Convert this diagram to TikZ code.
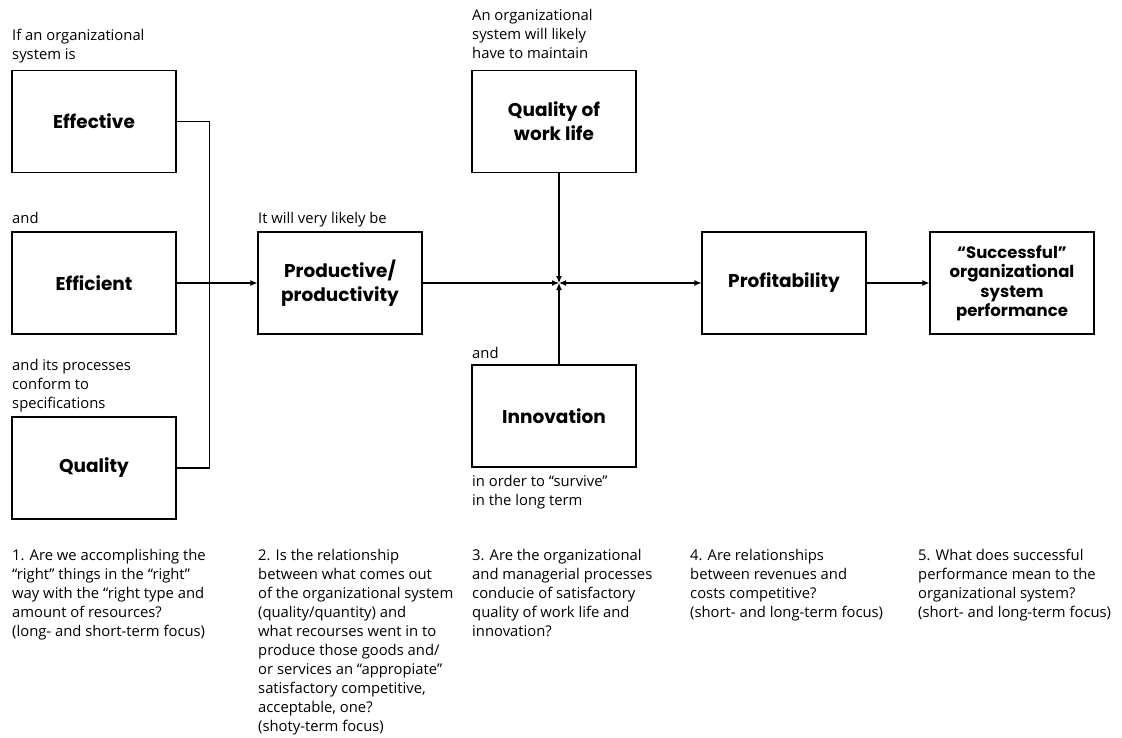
\documentclass[tikz,border=0pt]{standalone}
\usepackage{fontspec}
\setmainfont{Open Sans}
\newfontfamily\boxfont{Poppins}
\usetikzlibrary{calc,positioning,arrows.meta}

\begin{document}
\begin{tikzpicture}[x=1pt,y=-1pt,>={Latex[length=7pt,width=6pt]},
        blk/.style={draw,line width=1.1pt,minimum width=164pt,minimum height=102pt,
            align=center,inner sep=2pt,font=\boxfont\bfseries\fontsize{18.5}{24}\selectfont},
        small blk/.style={blk,font=\boxfont\bfseries\fontsize{16.5}{19.5}\selectfont},
        note/.style={anchor=north west,align=left,inner sep=0pt,
            font=\fontsize{14.8}{19}\selectfont},
        link/.style={line width=1.1pt}]
        \useasboundingbox (0,0) rectangle (1122,738);

        % boxes
        \node[blk] (eff)   at (94,121.5)  {Effective};
        \node[blk] (effi)  at (94,283)    {Efficient};
        \node[blk] (qual)  at (94,468)    {Quality};
        \node[blk] (prod)  at (340,283)   {Productive/\\productivity};
        \node[blk] (qwl)   at (554,121.5) {Quality of\\work life};
        \node[blk] (innov) at (554,416)   {Innovation};
        \node[blk] (prof)  at (784,283)   {Profitability};
        \node[small blk] (succ) at (1012,283) {“Successful”\\organizational\\system\\performance};

        % side notes
        \node[note] (n-eff)   at (12,29)   {If an organizational\\system is};
        \node[note] (n-effi)  at (12,212)  {and};
        \node[note] (n-qual)  at (12,359)  {and its processes\\conform to\\specifications};
        \node[note] (n-prod)  at (258,212) {It will very likely be};
        \node[note] (n-qwl)   at (472,9)   {An organizational\\system will likely\\have to maintain};
        \node[note] (n-innov) at (472,347) {and};
        \node[note] (n-surv)  at (472,475) {in order to “survive”\\in the long term};

        % questions
        \node[note] (q1) at (12,549)  {1. Are we accomplishing the\\“right” things in the “right”\\way with the “right type and\\amount of resources?\\(long- and short-term focus)};
        \node[note] (q2) at (258,549) {2. Is the relationship\\between what comes out\\of the organizational system\\(quality/quantity) and\\what recourses went in to\\produce those goods and/\\or services an “appropiate”\\satisfactory competitive,\\acceptable, one?\\(shoty-term focus)};
        \node[note] (q3) at (472,549) {3. Are the organizational\\and managerial processes\\conducie of satisfactory\\quality of work life and\\innovation?};
        \node[note] (q4) at (690,549) {4. Are relationships\\between revenues and\\costs competitive?\\(short- and long-term focus)};
        \node[note] (q5) at (918,549) {5. What does successful\\performance mean to the\\organizational system?\\(short- and long-term focus)};

        % connectors
        \coordinate (bt) at ($(eff.east)+(33,0)$);
        \coordinate (j) at ($(qwl.south |- prod.east)+(5,0)$);
        \draw[link] (eff.east) -- (bt) -- (bt |- qual.east) -- (qual.east);
        \path[link,->]
        (effi.east) edge (prod.west)
        (prod.east) edge (j)
        (j |- qwl.south) edge (j)
        (j |- innov.north) edge (j)
        (j) edge[<->] (prof.west)
        (prof.east) edge (succ.west);
\end{tikzpicture}
\end{document}
